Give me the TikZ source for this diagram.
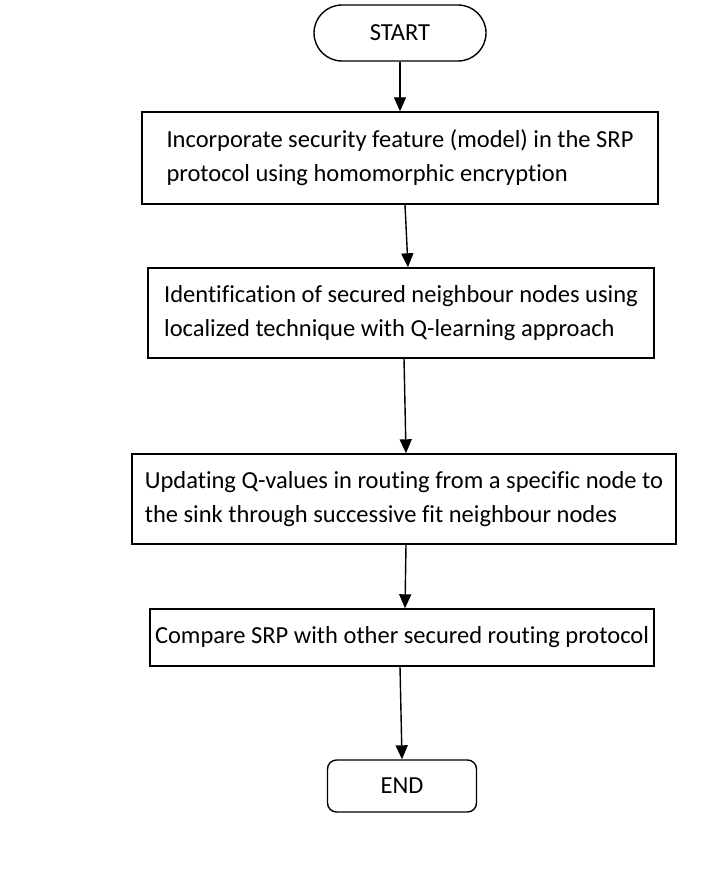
\documentclass[tikz,border=0pt]{standalone}
\usepackage{fontspec}
\setmainfont{Carlito}[Ligatures=CommonOff]
\usetikzlibrary{arrows.meta}
\begin{document}
\begin{tikzpicture}[x=1pt,y=-1pt,
  every node/.style={font=\fontsize{24.5}{34}\selectfont},
  stepbox/.style={draw, line width=1.4pt, inner sep=0pt, align=left},
  flow/.style={line width=1.4pt, -{Triangle[length=14pt,width=12pt]}}]
\useasboundingbox (0,0) rectangle (713,888);
\node[stepbox, rounded corners=28pt, minimum width=172pt, minimum height=56pt] (start) at (400,33) {START};
\node[stepbox, minimum width=516pt, minimum height=92pt] (b1) at (400,158)
  {Incorporate security feature (model) in the SRP\\protocol using homomorphic encryption};
\node[stepbox, minimum width=506pt, minimum height=90pt] (b2) at (401,313)
  {Identification of secured neighbour nodes using\\localized technique with Q-learning approach};
\node[stepbox, minimum width=544pt, minimum height=90pt] (b3) at (404,499)
  {Updating Q-values in routing from a specific node to\\the sink through successive fit neighbour nodes};
\node[stepbox, minimum width=504pt, minimum height=57pt] (b4) at (402,637.5)
  {Compare SRP with other secured routing protocol};
\node[stepbox, rounded corners=9pt, minimum width=149pt, minimum height=52pt] (end) at (402,786) {END};
\draw[flow] (start.south) -- (b1.north);
\draw[flow] ([xshift=5pt]b1.south) -- ([xshift=7pt]b2.north);
\draw[flow] ([xshift=3pt]b2.south) -- ([xshift=2pt]b3.north);
\draw[flow] ([xshift=2pt]b3.south) -- ([xshift=3pt]b4.north);
\draw[flow] ([xshift=-2pt]b4.south) -- (end.north);
\end{tikzpicture}
\end{document}
